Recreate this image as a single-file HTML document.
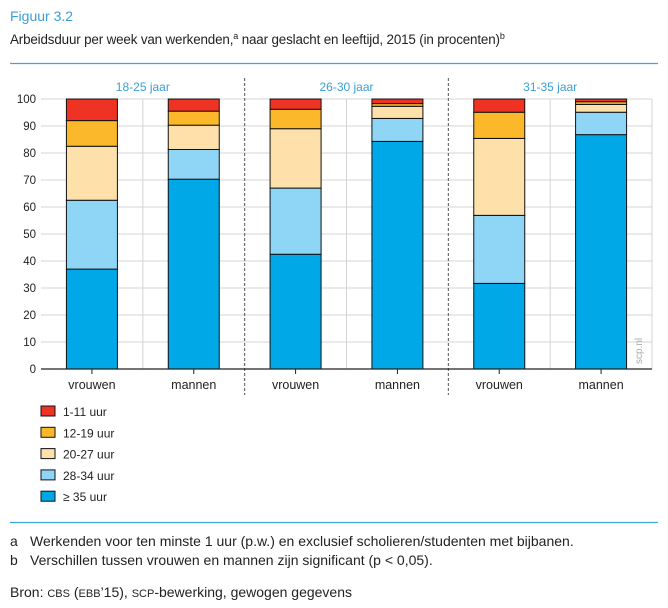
<!DOCTYPE html>
<html><head><meta charset="utf-8"><style>
body{margin:0;background:#fff;width:668px;height:603px;overflow:hidden;font-family:"Liberation Sans Narrow","Liberation Sans",sans-serif;}
svg text{font-family:"Liberation Sans Narrow","Liberation Sans",sans-serif;}
</style></head><body>
<svg width="668" height="603" viewBox="0 0 668 603">
<text x="10" y="21" font-size="14" fill="#3aa0d8">Figuur 3.2</text>
<text x="10" y="44" font-size="13.4" letter-spacing="-0.15" fill="#222">Arbeidsduur per week van werkenden,<tspan font-size="9" dy="-5">a</tspan><tspan dy="5"> naar geslacht en leeftijd, 2015 (in procenten)</tspan><tspan font-size="9" dy="-5">b</tspan></text>
<line x1="10" y1="63.5" x2="658" y2="63.5" stroke="#3aa8d8" stroke-width="1.3"/>
<g id="plot"></g>
<g id="legend"></g>
<line x1="10" y1="522.5" x2="658" y2="522.5" stroke="#3aa8d8" stroke-width="1.3"/>
<text x="10" y="546" font-size="14" fill="#222">a<tspan x="30">Werkenden voor ten minste 1 uur (p.w.) en exclusief scholieren/studenten met bijbanen.</tspan></text>
<text x="10" y="565" font-size="14" fill="#222">b<tspan x="30">Verschillen tussen vrouwen en mannen zijn significant (p &lt; 0,05).</tspan></text>
<text x="10" y="597" font-size="14" fill="#222">Bron: <tspan font-size="11">CBS</tspan> (<tspan font-size="11">EBB</tspan>’15), <tspan font-size="11">SCP</tspan>-bewerking, gewogen gegevens</text>
</svg>
<script>
const groups=["18-25 jaar","26-30 jaar","31-35 jaar"];
const categories=["vrouwen","mannen","vrouwen","mannen","vrouwen","mannen"];
const seriesNames=["≥ 35 uur","28-34 uur","20-27 uur","12-19 uur","1-11 uur"];
const s35=[37,70.3,42.5,84.3,31.7,86.8];
const s28=[25.5,11,24.5,8.5,25.2,8.3];
const s20=[20,9,22,4.5,28.5,2.9];
const s12=[9.5,5.2,7.2,1,9.7,1];
const s1=[8,4.5,3.8,1.7,4.9,1];
const yTicks=[0,10,20,30,40,50,60,70,80,90,100];
const colors=["#00a8e8","#8fd6f6","#fde0aa","#fbb82b","#ee3224"];
const NS="http://www.w3.org/2000/svg";
const plot=document.getElementById('plot');
const X0=41,X1=652,Y0=369,Y100=99;
const slot=(X1-X0)/categories.length;
const y=v=>Y0-(Y0-Y100)*v/100;
const xc=i=>X0+slot*(i+0.5);
function mk(t,a,p){const e=document.createElementNS(NS,t);for(const k in a)e.setAttribute(k,a[k]);(p||plot).appendChild(e);return e;}
yTicks.forEach(t=>{
 const l=mk('line',{x1:X0,x2:X1,y1:y(t),y2:y(t),stroke:'#d4d4d4','stroke-width':1});
 
 
 const tx=mk('text',{x:36,y:y(t)+4,'font-size':11.5,'text-anchor':'end',fill:'#222'});tx.textContent=t;
 
 
});
for(let i=1;i<=categories.length;i++){
 const gx=X0+slot*i;
 const dashed=(i%2===0&&i<categories.length);
 const l=mk('line',{x1:gx,x2:gx,y1:dashed?78:Y100,y2:dashed?395:Y0,stroke:dashed?'#555':'#d4d4d4','stroke-width':1,'stroke-dasharray':dashed?'3,2':'none'});
 
 
}
groups.forEach((g,gi)=>{
 const t=mk('text',{x:X0+slot*(gi*2+1),y:91,'font-size':12,'text-anchor':'middle',fill:'#3aa0d8'});t.textContent=g;
 
 
});
const series=[s35,s28,s20,s12,s1];
const bw=51;
categories.forEach((c,i)=>{
 let cum=0;
 series.forEach((s,si)=>{
  const v=s[i];
  const r=mk('rect',{x:xc(i)-bw/2,y:y(cum+v),width:bw,height:y(cum)-y(cum+v),fill:colors[si],stroke:'#111','stroke-width':1});
  
  
  cum+=v;
 });
 const tk=mk('line',{x1:xc(i),x2:xc(i),y1:Y0,y2:Y0+5,stroke:'#222'});
 
 
 const t=mk('text',{x:xc(i),y:389,'font-size':12.5,'text-anchor':'middle',fill:'#222'});t.textContent=c;
 
 
});
const ax=mk('line',{x1:X0,x2:X1,y1:Y0,y2:Y0,stroke:'#222','stroke-width':1.2});


const wm=mk('text',{x:0,y:0,'font-size':10,fill:'#aaa',transform:'translate(642,364) rotate(-90)'});wm.textContent='scp.nl';


const leg=document.getElementById('legend');
for(let k=0;k<5;k++){
 const si=4-k;
 const yy=406+k*21.3;
 const r=mk('rect',{x:41,y:yy,width:14,height:10,fill:colors[si],stroke:'#111','stroke-width':1},leg);
 
 
 const t=mk('text',{x:63,y:yy+10,'font-size':12,fill:'#222'},leg);t.textContent=seriesNames[si];
 
 
}
</script>
</body></html>
